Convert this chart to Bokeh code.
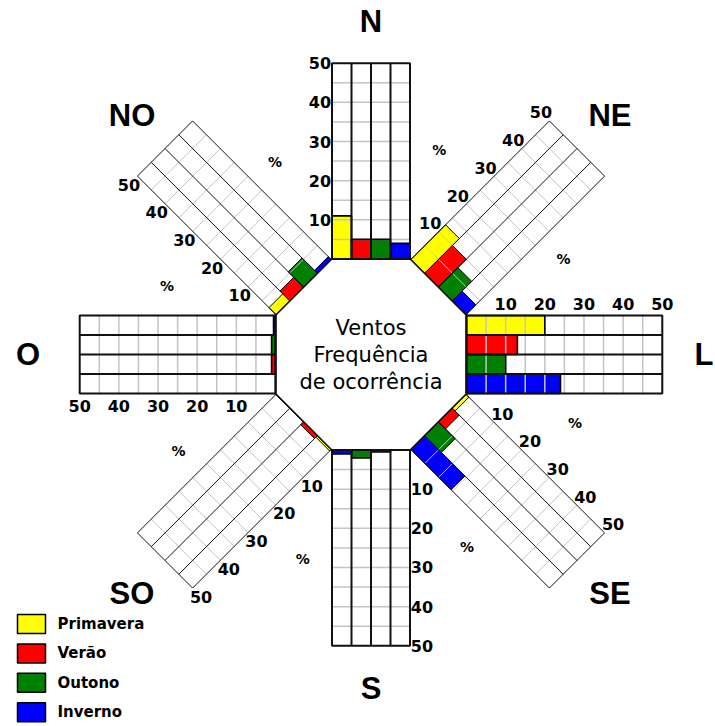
import numpy as np
from bokeh.plotting import figure
from bokeh.models import Range1d, ColumnDataSource
from bokeh.embed import file_html
from bokeh.resources import INLINE
from bokeh.core.properties import value

# ---------------- data ----------------
directions = ["N", "NE", "L", "SE", "S", "SO", "O", "NO"]
bearings = [0, 45, 90, 135, 180, 225, 270, 315]
seasons = ["Primavera", "Verão", "Outono", "Inverno"]
season_colors = ["#ffff00", "#ff0000", "#008000", "#0000ff"]
primavera = [11, 12.5, 20, 1, 0, 0.5, 0, 2.5]
verao = [5, 10, 13, 2.5, 0.5, 1, 1, 3.5]
outono = [5, 7, 10, 6, 2, 0, 1, 5.5]
inverno = [4, 3.5, 24, 14.5, 1, 0, 0.5, 1]
tick_values = [10, 20, 30, 40, 50]
max_value = 50
grid_step = 5
center_title = ["Ventos", "Frequência", "de ocorrência"]
series = [primavera, verao, outono, inverno]

# ---------------- geometry (screen pixels) ----------------
W, H = 715, 726
CX, CY = 370.5, 354.0
R0 = 95.5
SCALE = 195.8 / max_value
HALF = 39.0
COLW = 2 * HALF / len(seasons)
RMAX = R0 + max_value * SCALE

def pt(bearing, r, s):
    t = np.radians(bearing)
    ux, uy = np.sin(t), -np.cos(t)
    vx, vy = -np.cos(t), -np.sin(t)
    return CX + r * ux + s * vx, CY + r * uy + s * vy

def quad(bearing, r0, r1, s0, s1):
    pts = [pt(bearing, r0, s0), pt(bearing, r1, s0), pt(bearing, r1, s1), pt(bearing, r0, s1)]
    return [q[0] for q in pts], [q[1] for q in pts]

p = figure(width=W, height=H, x_range=Range1d(0, W), y_range=Range1d(H, 0),
           output_backend="svg", toolbar_location=None, min_border=0,
           x_axis_type=None, y_axis_type=None, outline_line_color=None,
           background_fill_color="white", border_fill_color="white")

def is_orth(b):
    return b % 90 == 0

# octagon
Rv = R0 / np.cos(np.radians(22.5))
oct_pts = [pt(22.5 + 45 * k, Rv, 0) for k in range(8)]
p.patch([q[0] for q in oct_pts], [q[1] for q in oct_pts], fill_color="white",
        line_color="black", line_width=2)

# panel backgrounds
pxs, pys, plw = [], [], []
for b in bearings:
    xs, ys = quad(b, R0, RMAX, -HALF, HALF)
    pxs.append(xs); pys.append(ys); plw.append(2 if is_orth(b) else 1)
p.patches(pxs, pys, fill_color="white", line_color=None)

# bars (fill)
bar_sources = []
for si, vals in enumerate(series):
    bx, by, lw = [], [], []
    for di, b in enumerate(bearings):
        s0 = HALF - si * COLW
        s1 = HALF - (si + 1) * COLW
        xs, ys = quad(b, R0, R0 + vals[di] * SCALE, s0, s1)
        bx.append(xs); by.append(ys); lw.append(1.6 if is_orth(b) else 1.0)
    src = ColumnDataSource(dict(xs=bx, ys=by, lw=lw))
    bar_sources.append(src)
    p.patches("xs", "ys", source=src, fill_color=season_colors[si], line_color=None)

# light grid lines across panels
gx, gy, gw = [], [], []
for b in bearings:
    for v in np.arange(grid_step, max_value, grid_step):
        r = R0 + v * SCALE
        a = pt(b, r, -HALF); c = pt(b, r, HALF)
        gx.append([a[0], c[0]]); gy.append([a[1], c[1]]); gw.append(1.5 if is_orth(b) else 1.0)
p.multi_line(gx, gy, line_color="#c4c4c4", line_width=gw)

# bar outlines
for si, src in enumerate(bar_sources):
    p.patches("xs", "ys", source=src, fill_alpha=0, line_color="black", line_width="lw")

# column dividers
dx, dy, dw = [], [], []
for b in bearings:
    for j in range(1, len(seasons)):
        s = HALF - j * COLW
        a = pt(b, R0, s); c = pt(b, RMAX, s)
        dx.append([a[0], c[0]]); dy.append([a[1], c[1]]); dw.append(2 if is_orth(b) else 1.0)
p.multi_line(dx, dy, line_color="#111111", line_width=dw)

# panel borders
p.patches(pxs, pys, fill_alpha=0, line_color="#111111", line_width=plw)

# tick labels
tx, ty, tt = [], [], []
for b in bearings:
    for v in tick_values:
        x, y = pt(b, R0 + v * SCALE, HALF + 12)
        tx.append(x); ty.append(y); tt.append(str(v))
p.text(tx, ty, text=tt, text_align="center", text_baseline="middle",
       text_font=value("DejaVu Sans"), text_font_style="bold", text_font_size="16px",
       text_color="black")

# percent signs
px_, py_ = [], []
for b in bearings:
    x, y = pt(b, R0 + 97, 96)
    px_.append(x); py_.append(y)
p.text(px_, py_, text=["%"] * len(bearings), text_align="center", text_baseline="middle",
       text_font=value("DejaVu Sans"), text_font_style="bold", text_font_size="14px",
       text_color="black")

# direction names
name_dist = [333, 338, 333, 338, 334, 338, 343, 338]
nx, ny = [], []
for b, d in zip(bearings, name_dist):
    x, y = pt(b, d, 0)
    nx.append(x); ny.append(y)
p.text(nx, ny, text=directions, text_align="center", text_baseline="middle",
       text_font=value("Liberation Sans"), text_font_style="bold", text_font_size="31px",
       text_color="black")

# center title
p.text([CX] * 3, [CY - 27, CY, CY + 27], text=center_title, text_align="center",
       text_baseline="middle", text_font=value("DejaVu Sans"), text_font_size="21px",
       text_color="black")

# legend
ly = [623.5 + 29.4 * i for i in range(len(seasons))]
p.rect([31] * len(seasons), ly, width=28, height=19, fill_color=season_colors,
       line_color="black", line_width=1.5)
p.text([57] * len(seasons), ly, text=seasons, text_align="left", text_baseline="middle",
       text_font=value("DejaVu Sans"), text_font_style="bold", text_font_size="15px",
       text_color="black")

open("out.html", "w").write(file_html(p, INLINE))
